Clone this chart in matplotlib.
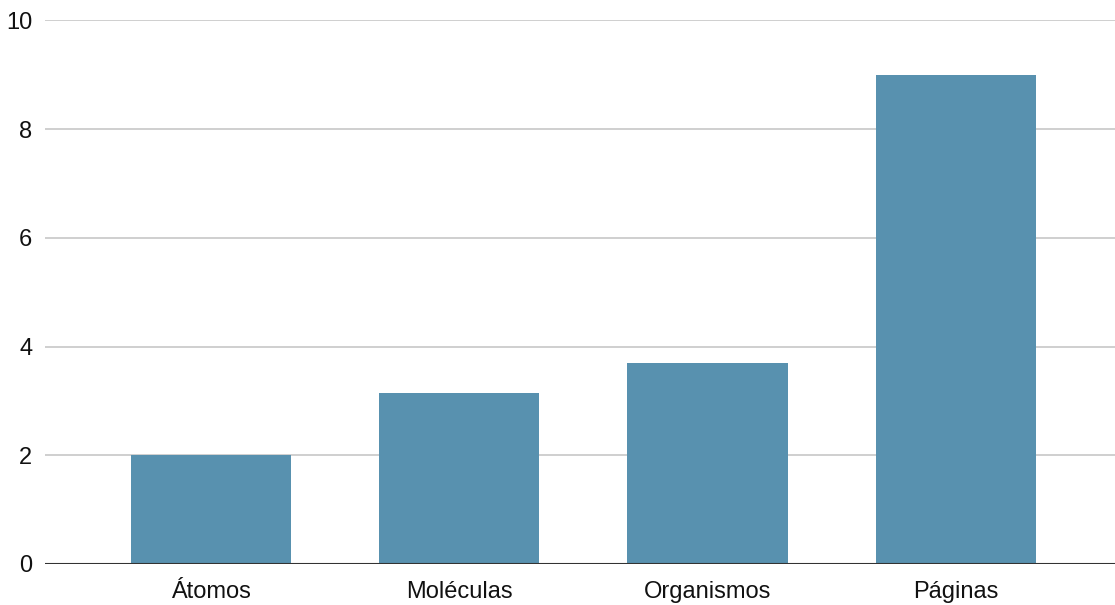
import numpy as np
import matplotlib
matplotlib.use("Agg")
import matplotlib.pyplot as plt

# datos
categorias = ["Átomos", "Moléculas", "Organismos", "Páginas"]
valores = [2.0, 3.15, 3.7, 9.0]
ticks_y = [0, 2, 4, 6, 8, 10]

plt.rcParams['font.family'] = ['Liberation Sans', 'DejaVu Sans']

fig = plt.figure(figsize=(11.15, 6.05), dpi=100)
ax = fig.add_axes([45/1115, 1 - 564/605, 1 - 45/1115, (564 - 20.3)/605])

x = np.arange(len(categorias))
ax.bar(x, valores, width=0.645, color="#5891af", zorder=3)

ax.set_ylim(0, 10)
ax.set_xlim(-0.667, 3.64)
ax.set_yticks(ticks_y)
ax.set_yticklabels([str(t) for t in ticks_y])
ax.set_xticks(x)
ax.set_xticklabels(categorias)

ax.grid(axis='y', color="#cccccc", linewidth=1.3, zorder=0)
ax.axhline(0, color="#333333", linewidth=1.5, zorder=4)

for s in ax.spines.values():
    s.set_visible(False)
ax.tick_params(axis='both', length=0, labelsize=17, colors="#111111")
ax.tick_params(axis='y', pad=9)
ax.tick_params(axis='x', pad=12)

fig.savefig("out.png", dpi=100)
